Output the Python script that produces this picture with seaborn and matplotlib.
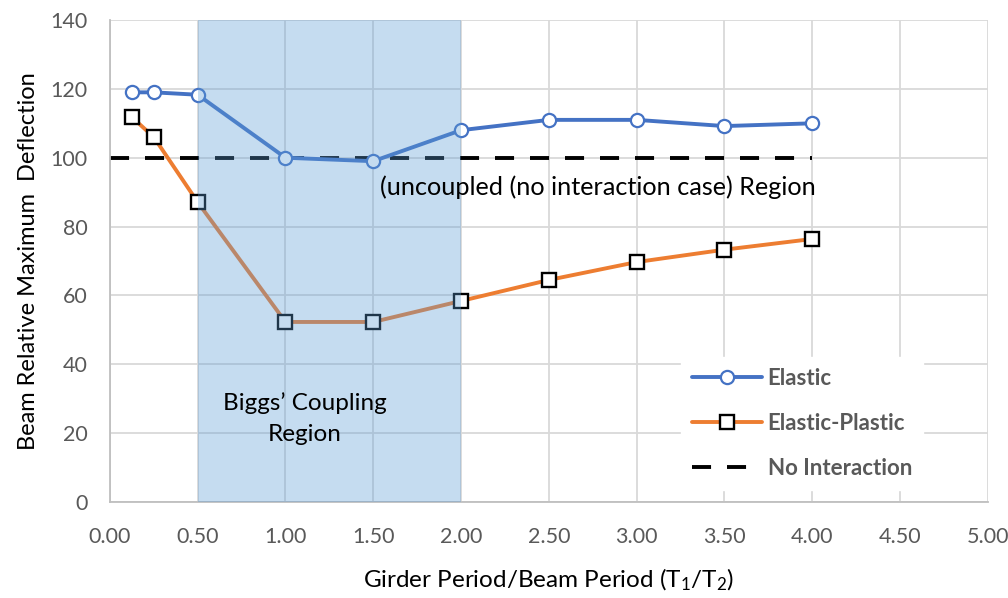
import matplotlib
matplotlib.use("Agg")
import matplotlib.pyplot as plt
import matplotlib.ticker as mticker
import pandas as pd
import seaborn as sns

# Period ratio T1/T2 and relative beam deflections (%)
period_ratio = [0.125, 0.25, 0.5, 1.0, 1.5, 2.0, 2.5, 3.0, 3.5, 4.0]
elastic = [119.0, 119.0, 118.3, 100.0, 99.0, 108.0, 111.0, 111.0, 109.2, 110.0]
elastic_plastic = [111.8, 106.0, 87.1, 52.3, 52.3, 58.4, 64.5, 69.7, 73.3, 76.4]
no_interaction_x = [0.0, 4.0]
no_interaction = [100.0, 100.0]
coupling_region = (0.5, 2.0)

x_ticks = [0.0, 0.5, 1.0, 1.5, 2.0, 2.5, 3.0, 3.5, 4.0, 4.5, 5.0]
y_ticks = [0, 20, 40, 60, 80, 100, 120, 140]

sns.set_theme(style="white")
plt.rcParams["font.family"] = ["Lato", "DejaVu Sans"]
plt.rcParams["mathtext.fontset"] = "custom"
plt.rcParams["mathtext.rm"] = "Lato"

df = pd.DataFrame({"ratio": period_ratio, "Elastic": elastic, "Elastic-Plastic": elastic_plastic})
df_none = pd.DataFrame({"ratio": no_interaction_x, "No Interaction": no_interaction})

fig = plt.figure(figsize=(10.08, 5.98), dpi=100)
ax = fig.add_axes([0.109, 0.1605, 0.871, 0.806])

blue = "#4472C4"
orange = "#ED7D31"

sns.lineplot(data=df, x="ratio", y="Elastic", ax=ax, color=blue, lw=2.8,
             marker="o", markersize=9.5, markerfacecolor="white",
             markeredgecolor=blue, markeredgewidth=1.6, label="Elastic", zorder=3)
sns.lineplot(data=df, x="ratio", y="Elastic-Plastic", ax=ax, color=orange, lw=2.8,
             marker="s", markersize=9.5, markerfacecolor="white",
             markeredgecolor="black", markeredgewidth=1.7, label="Elastic-Plastic", zorder=3)
sns.lineplot(data=df_none, x="ratio", y="No Interaction", ax=ax, color="black", lw=2.8,
             dashes=False, label="No Interaction", zorder=2)
ax.lines[-1].set_dashes([4.9, 4.1])

# Shaded coupling band sits over the curves
ax.axvspan(*coupling_region, color="#5B9BD5", alpha=0.35, lw=0, zorder=4)

ax.set_xlim(0, 5)
ax.set_ylim(0, 140)
ax.set_xticks(x_ticks)
ax.set_yticks(y_ticks)
ax.xaxis.set_major_formatter(mticker.FormatStrFormatter("%.2f"))
ax.grid(True, color="#D9D9D9", lw=1.3, zorder=0)
ax.set_axisbelow(True)
for side in ["top", "right"]:
    ax.spines[side].set_visible(False)
for side in ["left", "bottom"]:
    ax.spines[side].set_color("#BFBFBF")
    ax.spines[side].set_linewidth(1.3)
ax.tick_params(axis="both", length=0, labelsize=15.5, labelcolor="#595959")
ax.tick_params(axis="y", pad=16)
ax.tick_params(axis="x", pad=18)

ax.set_xlabel(r"Girder Period/Beam Period (T$\mathregular{_1}$/T$\mathregular{_2}$)",
              fontsize=17.5, color="black", labelpad=14)
ax.set_ylabel("Beam Relative Maximum  Deflection", fontsize=17, color="black", labelpad=8)

ax.text(1.54, 91.5, "(uncoupled (no interaction case) Region", fontsize=18.2,
        ha="left", va="center", color="black", zorder=6)
ax.text(1.11, 24.2, "Biggs\u2019 Coupling\nRegion", fontsize=17.5, ha="center", va="center",
        color="black", linespacing=1.6, zorder=6)

leg = ax.legend(loc="lower right", bbox_to_anchor=(0.939, 0.002), frameon=True,
                facecolor="white", edgecolor="white", framealpha=1.0,
                handlelength=3.15, labelspacing=1.08, borderpad=0.5, handletextpad=0.25,
                prop={"weight": "bold", "size": 16})
for t in leg.get_texts():
    t.set_color("#595959")
leg.set_zorder(7)

fig.savefig("out.png", dpi=100)
